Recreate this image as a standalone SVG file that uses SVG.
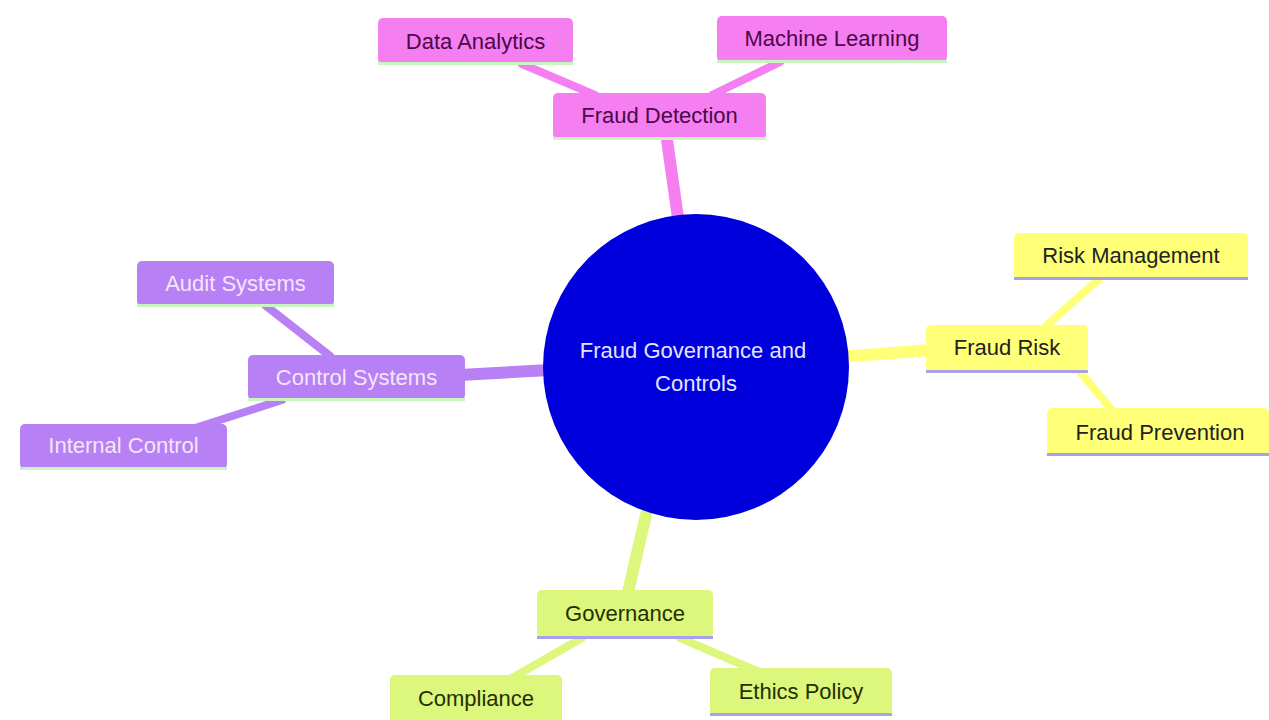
<svg xmlns="http://www.w3.org/2000/svg" width="1269" height="720" viewBox="0 0 1269 720">
<style>
text{font-family:"Liberation Sans",Arial,sans-serif;font-size:22px;text-anchor:middle;dominant-baseline:central}
.pk{fill:#f57ff0}.pkt{fill:#4a0848}
.yl{fill:#ffff78}.ylt{fill:#222222}
.pu{fill:#b880f5}.put{fill:#f4e6fa}
.gr{fill:#dcf77b}.grt{fill:#253000}
.lg{fill:#c8f5c0}.lv{fill:#a8a0e8}
.e1{stroke-width:12;stroke-linecap:round;fill:none}
.e2{stroke-width:8;stroke-linecap:round;fill:none}
</style>
<rect width="1269" height="720" fill="#ffffff"/>
<g id="connectors">
<line class="e1" x1="667" y1="140" x2="679" y2="225" stroke="#f57ff0"/>
<line class="e2" x1="522" y1="64" x2="595" y2="95" stroke="#f57ff0"/>
<line class="e2" x1="780" y1="62" x2="712" y2="95" stroke="#f57ff0"/>
<line class="e1" x1="840" y1="357" x2="930" y2="350" stroke="#ffff78"/>
<line class="e2" x1="1100" y1="278" x2="1045" y2="327" stroke="#ffff78"/>
<line class="e2" x1="1080" y1="372" x2="1112" y2="410" stroke="#ffff78"/>
<line class="e1" x1="460" y1="375" x2="550" y2="370" stroke="#b880f5"/>
<line class="e2" x1="265" y1="305" x2="330" y2="356" stroke="#b880f5"/>
<line class="e2" x1="282" y1="400" x2="195" y2="428" stroke="#b880f5"/>
<line class="e1" x1="646" y1="515" x2="628" y2="592" stroke="#dcf77b"/>
<line class="e2" x1="582" y1="638" x2="512" y2="678" stroke="#dcf77b"/>
<line class="e2" x1="680" y1="638" x2="757" y2="671" stroke="#dcf77b"/>
</g>
<g id="root">
<circle cx="696" cy="367" r="153" fill="#0000dc"/>
<text x="693" y="350" fill="#e4e4ff">Fraud Governance and</text>
<text x="696" y="383" fill="#e4e4ff">Controls</text>
</g>
<g id="fraud-detection">
<rect class="pk" x="553" y="93" width="213" height="46" rx="5"/>
<rect class="lg" x="553" y="137" width="213" height="3"/>
<text class="pkt" x="659.5" y="115">Fraud Detection</text>
</g>
<g id="data-analytics">
<rect class="pk" x="378" y="18" width="195" height="46" rx="5"/>
<rect class="lg" x="378" y="62" width="195" height="3"/>
<text class="pkt" x="475.5" y="41">Data Analytics</text>
</g>
<g id="machine-learning">
<rect class="pk" x="717" y="16" width="230" height="46" rx="5"/>
<rect class="lg" x="717" y="60" width="230" height="3"/>
<text class="pkt" x="832" y="38">Machine Learning</text>
</g>
<g id="fraud-risk">
<rect class="yl" x="926" y="325" width="162" height="47" rx="5"/>
<rect class="lv" x="926" y="370" width="162" height="3"/>
<text class="ylt" x="1007" y="347">Fraud Risk</text>
</g>
<g id="risk-management">
<rect class="yl" x="1014" y="233" width="234" height="46" rx="5"/>
<rect class="lv" x="1014" y="277" width="234" height="3"/>
<text class="ylt" x="1131" y="255">Risk Management</text>
</g>
<g id="fraud-prevention">
<rect class="yl" x="1047" y="408" width="222" height="48" rx="5"/>
<rect class="lv" x="1047" y="453" width="222" height="3"/>
<text class="ylt" x="1160" y="432">Fraud Prevention</text>
</g>
<g id="control-systems">
<rect class="pu" x="248" y="355" width="217" height="45" rx="5"/>
<rect class="lg" x="248" y="398" width="217" height="3"/>
<text class="put" x="356.5" y="377">Control Systems</text>
</g>
<g id="audit-systems">
<rect class="pu" x="137" y="261" width="197" height="45" rx="5"/>
<rect class="lg" x="137" y="304" width="197" height="3"/>
<text class="put" x="235.5" y="283">Audit Systems</text>
</g>
<g id="internal-control">
<rect class="pu" x="20" y="424" width="207" height="45" rx="5"/>
<rect class="lg" x="20" y="467" width="207" height="3"/>
<text class="put" x="123.5" y="445">Internal Control</text>
</g>
<g id="governance">
<rect class="gr" x="537" y="590" width="176" height="48" rx="5"/>
<rect class="lv" x="537" y="636" width="176" height="3"/>
<text class="grt" x="625" y="613">Governance</text>
</g>
<g id="compliance">
<rect class="gr" x="390" y="675" width="172" height="50" rx="5"/>
<text class="grt" x="476" y="698">Compliance</text>
</g>
<g id="ethics-policy">
<rect class="gr" x="710" y="668" width="182" height="47" rx="5"/>
<rect class="lv" x="710" y="713" width="182" height="3"/>
<text class="grt" x="801" y="691">Ethics Policy</text>
</g>
</svg>
